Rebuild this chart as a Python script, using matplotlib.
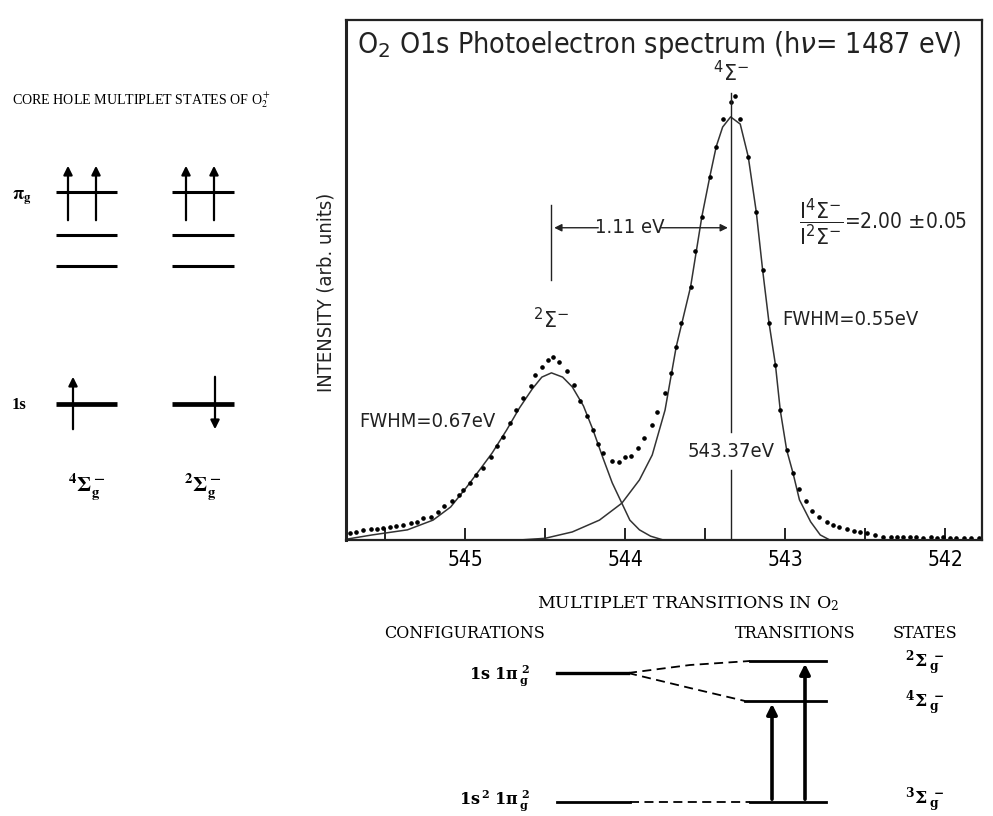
import matplotlib
matplotlib.use("Agg")
import matplotlib.pyplot as plt

plt.rcParams.update({
    "font.family": ["DejaVu Sans"],
    "mathtext.fontset": "dejavusans",
})

# measured O 1s spectrum (dots), binding energy in eV / intensity in arb. units
data_ev = [545.72, 545.68, 545.64, 545.59, 545.55, 545.51, 545.47, 545.43, 545.39, 545.34,
           545.30, 545.26, 545.21, 545.17, 545.13, 545.08, 545.04, 545.01, 544.97, 544.93,
           544.89, 544.84, 544.80, 544.76, 544.72, 544.68, 544.64, 544.59, 544.56, 544.52,
           544.48, 544.45, 544.41, 544.36, 544.32, 544.28, 544.24, 544.20, 544.17, 544.14,
           544.08, 544.04, 544.00, 543.96, 543.92, 543.88, 543.83, 543.80, 543.75, 543.71,
           543.68, 543.65, 543.59, 543.56, 543.52, 543.47, 543.43, 543.39, 543.34, 543.31,
           543.28, 543.23, 543.18, 543.14, 543.10, 543.06, 543.03, 542.99, 542.95, 542.91,
           542.87, 542.83, 542.79, 542.74, 542.70, 542.66, 542.61, 542.57, 542.53, 542.49,
           542.44, 542.39, 542.34, 542.30, 542.26, 542.22, 542.18, 542.14, 542.09, 542.05,
           542.01, 541.97, 541.93, 541.88, 541.84, 541.79]
data_int = [1.6, 2.0, 2.4, 2.5, 2.7, 2.8, 3.0, 3.3, 3.5, 3.9,
            4.3, 5.1, 5.5, 6.7, 8.0, 9.2, 10.6, 11.8, 13.4, 15.4,
            17.0, 19.7, 22.1, 24.4, 27.6, 30.7, 33.6, 36.4, 39.0, 41.0,
            42.6, 43.2, 42.0, 40.0, 36.6, 32.9, 29.3, 26.0, 22.7, 20.5,
            18.7, 18.4, 19.5, 19.9, 21.7, 24.0, 27.2, 30.3, 34.8, 39.4,
            45.7, 51.2, 59.9, 68.2, 76.4, 85.9, 93.0, 99.5, 103.6, 105.0,
            99.5, 90.6, 77.6, 63.8, 51.3, 41.4, 30.7, 21.3, 15.8, 12.0,
            9.1, 6.9, 5.4, 4.3, 3.5, 3.1, 2.5, 2.2, 1.8, 1.6,
            1.2, 0.8, 0.6, 0.6, 0.6, 0.6, 0.6, 0.4, 0.6, 0.4,
            0.7, 0.4, 0.4, 0.4, 0.4, 0.4]

# fitted 4Sigma- component
fit4_ev = [544.66, 544.50, 544.33, 544.16, 544.02, 543.91, 543.83, 543.75, 543.68, 543.59,
           543.52, 543.47, 543.43, 543.39, 543.34, 543.28, 543.23, 543.18, 543.14, 543.10,
           543.06, 543.03, 542.99, 542.95, 542.91, 542.84, 542.78, 542.72]
fit4_int = [0.0, 0.4, 1.9, 4.7, 8.7, 14.2, 20.1, 30.7, 45.7, 59.9,
            76.4, 85.9, 93.0, 97.6, 100.0, 98.3, 90.6, 77.6, 63.8, 51.3,
            41.4, 30.7, 21.3, 15.8, 9.5, 4.3, 1.2, 0.0]

# fitted 2Sigma- component
fit2_ev = [545.74, 545.58, 545.36, 545.20, 545.09, 544.99, 544.91, 544.83, 544.74, 544.66,
           544.58, 544.52, 544.46, 544.39, 544.33, 544.26, 544.20, 544.14, 544.08, 544.02,
           543.97, 543.91, 543.84, 543.77]
fit2_int = [0.2, 1.2, 2.4, 4.7, 7.8, 12.5, 16.5, 20.6, 26.0, 31.2,
            35.7, 38.5, 39.5, 38.5, 36.2, 31.7, 26.0, 19.6, 13.5, 8.7,
            4.7, 2.4, 0.9, 0.1]

peak_ev = {"4": 543.34, "2": 544.46}
major_ticks = [545, 544, 543, 542]
minor_ticks = [545.5, 544.5, 543.5, 542.5]

W, H = 993, 816
fig = plt.figure(figsize=(W / 100, H / 100), dpi=100)

# ---------------- spectrum panel ----------------
ax = fig.add_axes([346 / W, 1 - 540 / H, 636 / W, 520 / H])
ax.set_xlim(545.744, 541.769)
ax.set_ylim(0, 122.9)

ink = "#222222"
ax.plot(fit4_ev, fit4_int, color="#333333", lw=1.1)
ax.plot(fit2_ev, fit2_int, color="#333333", lw=1.1)
ax.plot(data_ev, data_int, ls="none", marker="o", ms=2.3, color="k")

for s in ax.spines.values():
    s.set_linewidth(1.6)
    s.set_color(ink)
ax.spines["left"].set_linewidth(2.2)
ax.set_yticks([])
ax.set_xticks(major_ticks)
ax.set_xticks(minor_ticks, minor=True)
ax.set_xticklabels([str(t) for t in major_ticks], fontstretch="condensed")
ax.tick_params(axis="x", which="both", direction="in", length=9, width=1.4,
               color=ink, labelsize=15, pad=7)

tf = dict(color=ink, fontstretch="condensed")
ax.text(0.017, 0.952, r"O$_2$ O1s Photoelectron spectrum (h$\nu$= 1487 eV)",
        transform=ax.transAxes, ha="left", va="center", fontsize=20.5, **tf)

# main peak marker line, broken by the energy label
p4 = peak_ev["4"]
ax.plot([p4, p4], [0, 16.5], color=ink, lw=1.0)
ax.plot([p4, p4], [25.5, 105.7], color=ink, lw=1.0)
ax.text(p4, 21.0, "543.37eV", ha="center", va="center", fontsize=14.5, **tf)
ax.text(p4, 110.5, r"$^4\Sigma^{-}$", ha="center", va="center", fontsize=15, **tf)

# splitting bracket
p2 = peak_ev["2"]
ax.plot([p2, p2], [61.5, 79.2], color=ink, lw=1.0)
ax.text(543.97, 73.8, "1.11 eV", ha="center", va="center", fontsize=14.5, **tf)
arr = dict(arrowstyle="-|>", lw=1.0, color=ink, mutation_scale=11)
ax.annotate("", xy=(p2, 73.8), xytext=(544.15, 73.8), arrowprops=arr)
ax.annotate("", xy=(p4, 73.8), xytext=(543.79, 73.8), arrowprops=arr)
ax.text(p2, 52.0, r"$^2\Sigma^{-}$", ha="center", va="center", fontsize=15, **tf)

ax.text(543.02, 52.0, "FWHM=0.55eV", ha="left", va="center", fontsize=14.5, **tf)
ax.text(545.66, 28.0, "FWHM=0.67eV", ha="left", va="center", fontsize=14.5, **tf)
ax.text(542.91, 75.0,
        r"$\dfrac{\mathrm{I}^{4}\Sigma^{-}}{\mathrm{I}^{2}\Sigma^{-}}$=2.00 $\pm$0.05",
        ha="left", va="center", fontsize=15, **tf)

fig.text(326 / W, 1 - 292 / H, "INTENSITY (arb. units)", rotation=90,
         ha="center", va="center", fontsize=14.5, color=ink, fontstretch="condensed")

# ---------------- schematics (figure pixel space) ----------------
dg = fig.add_axes([0, 0, 1, 1], zorder=-1)
dg.set_xlim(0, W)
dg.set_ylim(H, 0)
dg.axis("off")

serif = dict(family="DejaVu Serif", color="k")
head = dict(arrowstyle="-|>", lw=1.6, color="k", mutation_scale=13)

# core hole multiplet states of O2+
ch_cols = [(56, 117), (172, 234)]
pi_levels = [192, 235, 266]
s1_level = 404
pi_spin_x = [(68, 96), (186, 214)]
s1_spin = [(73, "up"), (215, "down")]
ch_states = [r"$\mathbf{^4\Sigma_g^-}$", r"$\mathbf{^2\Sigma_g^-}$"]

dg.text(12, 100, r"CORE HOLE MULTIPLET STATES OF O$_2^+$", ha="left", va="center",
        fontsize=10.1, family="Liberation Serif", math_fontfamily="stix")
dg.text(12, 198, r"$\mathbf{\pi_g}$", ha="left", va="center", fontsize=13,
        math_fontfamily="stix")
dg.text(12, 405, "1s", ha="left", va="center", fontsize=12, fontweight="bold",
        family="Liberation Serif")
for (x0, x1), spins, (sx, sdir), lab in zip(ch_cols, pi_spin_x, s1_spin, ch_states):
    for y in pi_levels:
        dg.plot([x0, x1], [y, y], color="k", lw=2.2, solid_capstyle="butt")
    dg.plot([x0, x1], [s1_level, s1_level], color="k", lw=3.4, solid_capstyle="butt")
    for x in spins:
        dg.annotate("", xy=(x, 163), xytext=(x, 223), arrowprops=head)
    if sdir == "up":
        dg.annotate("", xy=(sx, 374), xytext=(sx, 432), arrowprops=head)
    else:
        dg.annotate("", xy=(sx, 432), xytext=(sx, 374), arrowprops=head)
    dg.text((x0 + x1) / 2, 487, lab, ha="center", va="center", fontsize=15,
            math_fontfamily="stix")

# multiplet transitions in O2
dg.text(688, 604, r"MULTIPLET TRANSITIONS IN O$_2$", ha="center", va="center",
        fontsize=12.5, math_fontfamily="dejavuserif", **serif)
for txt, x in [("CONFIGURATIONS", 384), ("TRANSITIONS", 735), ("STATES", 893)]:
    dg.text(x, 633, txt, ha="left", va="center", fontsize=11.5, **serif)

config_y = {"core": 673, "ground": 802}
state_y = {"2": 661, "4": 701, "3": 802}
dg.plot([557, 628], [config_y["core"]] * 2, color="k", lw=2.4)
dg.plot([557, 630], [config_y["ground"]] * 2, color="k", lw=2.0)
dg.plot([750, 826], [state_y["2"]] * 2, color="k", lw=2.0)
dg.plot([745, 826], [state_y["4"]] * 2, color="k", lw=2.0)
dg.plot([750, 826], [state_y["3"]] * 2, color="k", lw=2.0)
dash = dict(color="k", lw=1.3, ls=(0, (5, 3)))
dg.plot([628, 690, 750], [config_y["core"], 665, state_y["2"]], **dash)
dg.plot([628, 690, 745], [config_y["core"], 688, state_y["4"]], **dash)
dg.plot([630, 750], [config_y["ground"]] * 2, **dash)
tr = dict(arrowstyle="-|>", lw=2.6, color="k", mutation_scale=15)
dg.annotate("", xy=(772, state_y["4"]), xytext=(772, state_y["3"]), arrowprops=tr)
dg.annotate("", xy=(805, state_y["2"]), xytext=(805, state_y["3"]), arrowprops=tr)

dg.text(530, 676, r"$\mathbf{1s\ 1\pi\,_g^{\,2}}$", ha="right", va="center",
        fontsize=11.5, math_fontfamily="dejavuserif")
dg.text(530, 801, r"$\mathbf{1s^{\,2}\ 1\pi\,_g^{\,2}}$", ha="right", va="center",
        fontsize=11.5, math_fontfamily="dejavuserif")
for k, lab in [("2", r"$\mathbf{^2\Sigma\,_g^{\,-}}$"), ("4", r"$\mathbf{^4\Sigma\,_g^{\,-}}$"),
               ("3", r"$\mathbf{^3\Sigma\,_g^{\,-}}$")]:
    dy = 2 if k != "3" else -2
    dg.text(905, state_y[k] + dy, lab, ha="left", va="center", fontsize=12.5,
            math_fontfamily="dejavuserif")

fig.savefig("out.png", dpi=100)
